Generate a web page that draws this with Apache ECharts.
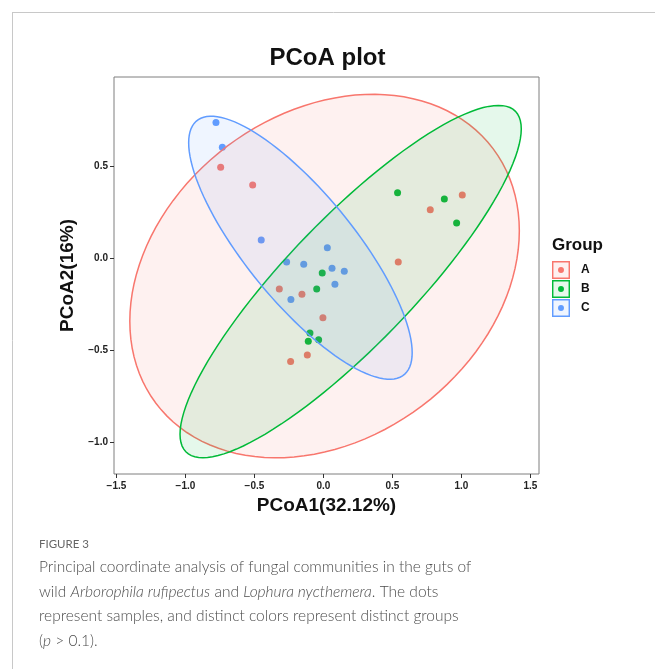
<!DOCTYPE html>
<html style="height: 100%">
<head>
<meta charset="utf-8">
<title>PCoA plot</title>
</head>
<body style="height: 100%; margin: 0; background: #fff">
<div id="container" style="width: 655px; height: 669px"></div>
<script src="https://cdn.jsdelivr.net/npm/echarts@6/dist/echarts.min.js"></script>
<script>
var groups = ['A', 'B', 'C'];
var groupColors = ['#F8766D', '#00BA38', '#619CFF'];
var groupFills = ['rgba(248,118,109,0.1)', 'rgba(0,186,56,0.1)', 'rgba(97,156,255,0.1)'];

// PCoA1, PCoA2 per sample
var pointsA = [[-0.745, 0.493], [-0.513, 0.397], [-0.320, -0.168], [-0.156, -0.197], [-0.004, -0.324],
               [-0.117, -0.527], [-0.238, -0.562], [0.542, -0.022], [0.774, 0.263], [1.006, 0.342]];
var pointsB = [[-0.009, -0.082], [-0.049, -0.168], [-0.098, -0.408], [-0.110, -0.453], [-0.035, -0.444],
               [0.537, 0.355], [0.876, 0.321], [0.965, 0.190]];
var pointsC = [[0.028, 0.056], [-0.267, -0.022], [-0.143, -0.034], [0.062, -0.056], [0.151, -0.072],
               [0.083, -0.143], [-0.236, -0.226], [-0.779, 0.737], [-0.733, 0.602], [-0.451, 0.098]];

// confidence ellipses: centre and shape matrix [sxx, sxy, syy]
var ellipseCenters = [[0.008, -0.098], [0.197, -0.128], [-0.167, 0.056]];
var ellipseShapes = [[1.992, 0.347, 0.976], [1.529, 1.026, 0.917], [0.656, -0.462, 0.511]];

var xTicks = [-1.5, -1, -0.5, 0, 0.5, 1, 1.5];
var yTicks = [-1, -0.5, 0, 0.5];

var groupPoints = [pointsA, pointsB, pointsC];
var font = 'Liberation Sans, Arial, sans-serif';
var captionFont = 'Lato, Roboto, sans-serif';

var dom = document.getElementById('container');
var myChart = echarts.init(dom);

function fmt(v) {
    return (v < 0 ? '\u2212' : '') + Math.abs(v).toFixed(1);
}

function ellipseItem(g) {
    return function (params, api) {
        var c = ellipseCenters[g], s = ellipseShapes[g];
        var l11 = Math.sqrt(s[0]);
        var l21 = s[1] / l11;
        var l22 = Math.sqrt(s[2] - l21 * l21);
        var pts = [];
        for (var k = 0; k < 120; k++) {
            var t = 2 * Math.PI * k / 120;
            pts.push(api.coord([c[0] + l11 * Math.cos(t), c[1] + l21 * Math.cos(t) + l22 * Math.sin(t)]));
        }
        return {
            type: 'polygon',
            shape: {points: pts},
            style: {fill: groupFills[g], stroke: groupColors[g], lineWidth: 1.5}
        };
    };
}

var keyIcon = 'path://M0,0L20,0L20,20L0,20Z M1.6,1.6L1.6,18.4L18.4,18.4L18.4,1.6Z M13.3,10A3.3,3.3,0,1,1,6.7,10A3.3,3.3,0,1,1,13.3,10Z';

var series = [];
groups.forEach(function (g, i) {
    series.push({
        name: g,
        type: 'scatter',
        data: groupPoints[i],
        symbol: 'circle',
        symbolSize: 7,
        itemStyle: {color: groupColors[i], opacity: 1},
        z: 2
    });
});
groups.forEach(function (g, i) {
    series.push({
        name: g,
        type: 'custom',
        data: [ellipseCenters[i]],
        encode: {x: 0, y: 1},
        renderItem: ellipseItem(i),
        silent: true,
        z: 3
    });
});

var legendBase = {
    orient: 'vertical',
    left: 552,
    top: 261,
    padding: 0,
    itemWidth: 18,
    itemHeight: 18,
    itemGap: 1,
    selectedMode: false
};

option = {
    animation: false,
    backgroundColor: '#fff',
    title: [{
        text: 'PCoA plot',
        left: 'center',
        top: 41,
        textStyle: {fontFamily: font, fontSize: 24, fontWeight: 'bold', color: '#111'}
    }, {
        text: 'Group',
        left: 552,
        top: 237,
        padding: 0,
        textStyle: {fontFamily: font, fontSize: 17, fontWeight: 'bold', color: '#111'}
    }],
    legend: [
        Object.assign({}, legendBase, {
            z: 3,
            data: groups.map(function (g, i) {
                return {name: g, icon: 'rect', itemStyle: {color: groupFills[i], borderWidth: 0}};
            }),
            textStyle: {fontFamily: font, fontSize: 12, fontWeight: 'bold', color: 'rgba(0,0,0,0)', padding: [0, 0, 0, 6]}
        }),
        Object.assign({}, legendBase, {
            z: 4,
            data: groups.map(function (g, i) {
                return {name: g, icon: keyIcon, itemStyle: {color: groupColors[i], borderWidth: 0}};
            }),
            textStyle: {fontFamily: font, fontSize: 12, fontWeight: 'bold', color: '#111', padding: [0, 0, 0, 6]}
        })
    ],
    grid: {
        left: 114,
        right: 116,
        top: 77,
        bottom: 195,
        show: true,
        borderColor: '#7f7f7f',
        borderWidth: 1
    },
    xAxis: {
        type: 'value',
        min: -1.518,
        max: 1.562,
        name: 'PCoA1(32.12%)',
        nameLocation: 'middle',
        nameGap: 17,
        nameTextStyle: {fontFamily: font, fontSize: 19, fontWeight: 'bold', color: '#111'},
        axisLine: {show: false, onZero: false},
        splitLine: {show: false},
        axisTick: {show: true, length: 4, customValues: xTicks, lineStyle: {color: '#333'}},
        axisLabel: {
            customValues: xTicks, margin: 7, formatter: fmt,
            fontFamily: font, fontSize: 10, fontWeight: 'bold', color: '#222'
        }
    },
    yAxis: {
        type: 'value',
        min: -1.174,
        max: 0.984,
        name: 'PCoA2(16%)',
        nameLocation: 'middle',
        nameRotate: 90,
        nameGap: 30,
        nameTextStyle: {fontFamily: font, fontSize: 19, fontWeight: 'bold', color: '#111'},
        axisLine: {show: false, onZero: false},
        splitLine: {show: false},
        axisTick: {show: true, length: 4, customValues: yTicks, lineStyle: {color: '#333'}},
        axisLabel: {
            customValues: yTicks, margin: 6, formatter: fmt,
            fontFamily: font, fontSize: 10, fontWeight: 'bold', color: '#222'
        }
    },
    graphic: [
        {type: 'line', shape: {x1: 12, y1: 12.5, x2: 655, y2: 12.5}, style: {stroke: '#c8c8c8', lineWidth: 1}},
        {type: 'line', shape: {x1: 12.5, y1: 12, x2: 12.5, y2: 669}, style: {stroke: '#c8c8c8', lineWidth: 1}},
        {
            type: 'text', left: 39, top: 538,
            style: {text: 'FIGURE 3', fill: '#666', font: '11.5px ' + captionFont}
        },
        {
            type: 'text', left: 39, top: 555,
            style: {
                text: 'Principal coordinate analysis of fungal communities in the guts of\n' +
                      'wild {i|Arborophila rufipectus} and {i|Lophura nycthemera}. The dots\n' +
                      'represent samples, and distinct colors represent distinct groups\n' +
                      '({i|p} > 0.1).',
                fill: '#4d4d4d',
                font: '300 15.5px ' + captionFont,
                lineHeight: 24.5,
                rich: {
                    i: {fontStyle: 'italic', fontWeight: 300, fontSize: 15.5, fontFamily: captionFont, fill: '#4d4d4d', lineHeight: 24.5}
                }
            }
        }
    ],
    series: series
};

if (option && typeof option === 'object') {
    myChart.setOption(option, true);
}
</script>
</body>
</html>
